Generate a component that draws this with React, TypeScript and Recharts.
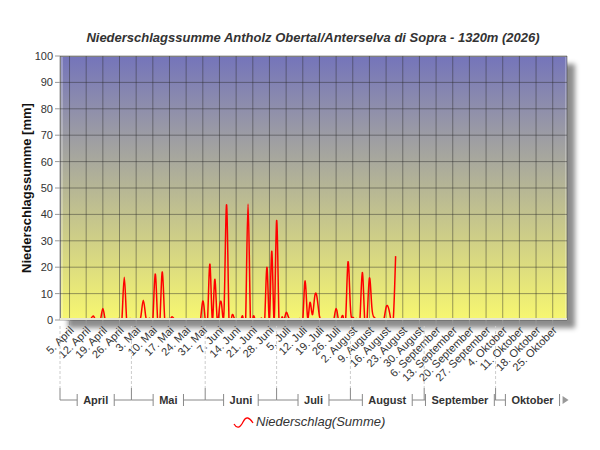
import { LineChart, Line, XAxis, YAxis, CartesianGrid } from 'recharts';

// daily precipitation sums [mm], one value per day starting 1. April
const RAIN_MM = [
  0, 0, 0, 0, 0, 0, 0, 0, 0, 0,
  0, 0, 0.5, 0.5, 1.5, 0, 0, 0, 4.4, 0,
  0, 0, 0, 0, 0, 0, 0, 16.2, 0, 0,
  0, 0, 0, 0, 1.5, 7.5, 1.5, 0, 0, 0,
  17.4, 0, 0, 18.2, 0, 0, 0, 1.2, 0.3, 0,
  0, 0, 0, 0, 0, 0, 0, 0, 0, 0,
  7.2, 0, 0, 21.1, 0, 15.3, 0.5, 4.8, 5, 6,
  43.6, 0, 0, 1.1, 0, 0, 0, 0, 0, 43.9,
  0, 0, 0, 0, 0, 0, 0, 19.8, 0, 26,
  0, 37.6, 0, 0, 0, 2.8, 1, 0, 0, 0,
  0, 0, 0, 14.8, 1, 6.6, 2, 8.8, 8.5, 1.5,
  0, 0, 0, 0, 0, 0, 4.4, 0, 0, 1.1,
  0, 22, 5, 1, 0, 0, 0, 18, 0, 0,
  15.9, 5, 1, 0, 0, 0, 0, 4.8, 4.6, 0,
  0, 24.2,
];

// day index (0 = 1. April) of every Sunday, and its label
const SUNDAY_DAYS = [4, 11, 18, 25, 32, 39, 46, 53, 60, 67, 74, 81, 88, 95, 102, 109, 116, 123, 130, 137, 144, 151, 158, 165, 172, 179, 186, 193, 200, 207];
const SUNDAY_LABELS = [
  '5. April', '12. April', '19. April', '26. April',
  '3. Mai', '10. Mai', '17. Mai', '24. Mai', '31. Mai',
  '7. Juni', '14. Juni', '21. Juni', '28. Juni',
  '5. Juli', '12. Juli', '19. Juli', '26. Juli',
  '2. August', '9. August', '16. August', '23. August', '30. August',
  '6. September', '13. September', '20. September', '27. September',
  '4. Oktober', '11. Oktober', '18. Oktober', '25. Oktober',
];

const MONTH_NAMES = ['April', 'Mai', 'Juni', 'Juli', 'August', 'September', 'Oktober'];
const MONTH_STARTS = [0, 30, 61, 91, 122, 153, 183];
const MONTH_DAYS = [30, 31, 30, 31, 31, 30, 31];

const Y_TICKS = [0, 10, 20, 30, 40, 50, 60, 70, 80, 90, 100];

const DAY_MAX = 213;
const FONT = "'Liberation Sans', Arial, sans-serif";
const PLOT_W = 507;

const rows = RAIN_MM.map((v, i) => ({ d: i, v }));

let ctx: CanvasRenderingContext2D | null = null;
function textWidth(s: string) {
  if (!ctx) ctx = document.createElement('canvas').getContext('2d');
  if (!ctx) return s.length * 6;
  ctx.font = `bold 11px ${FONT}`;
  return ctx.measureText(s).width;
}

function DayTick(props: any) {
  const { x, y, payload } = props;
  const label = SUNDAY_LABELS[SUNDAY_DAYS.indexOf(payload.value)];
  const ax = x + 5;
  const ay = y + 6;
  return (
    <text x={ax} y={ay} transform={`rotate(-45 ${ax} ${ay})`} textAnchor="end" fontSize={11} fill="#333">
      {label}
    </text>
  );
}

function MonthTick(props: any) {
  const { x, y, payload } = props;
  const i = MONTH_STARTS.indexOf(payload.value);
  const w = (MONTH_DAYS[i] * PLOT_W) / DAY_MAX;
  const cx = x + w / 2;
  const tw = textWidth(MONTH_NAMES[i]);
  const l = cx - tw / 2 - 6;
  const r = cx + tw / 2 + 6;
  const ly = y + 12;
  const last = i === MONTH_NAMES.length - 1;
  return (
    <g>
      <line x1={x} y1={y - 62} x2={x} y2={y} stroke="#cccccc" strokeDasharray="3 2" />
      <path
        d={`M${x},${y} L${x},${ly} L${l},${ly} M${l},${ly - 6} L${l},${ly + 6} M${r},${ly - 6} L${r},${ly + 6}` +
          (last ? '' : ` M${r},${ly} L${x + w},${ly}`)}
        stroke="#888"
        fill="none"
      />
      {last && <path d={`M${r + 3},${ly - 4} L${r + 9},${ly} L${r + 3},${ly + 4} Z`} fill="#999" />}
      <text x={cx} y={ly + 4} textAnchor="middle" fontWeight="bold" fontSize={11} fill="#333">
        {MONTH_NAMES[i]}
      </text>
    </g>
  );
}

export default function App() {
  return (
    <div style={{ position: 'absolute', left: 0, top: 0, width: 600, height: 450, background: '#fff', fontFamily: FONT, color: '#333' }}>
      <div
        style={{
          position: 'absolute', left: 60, top: 56, width: PLOT_W, height: 264, boxSizing: 'border-box',
          background: 'linear-gradient(#7575ba, #f7f770)',
          borderTop: '1px solid #999', borderLeft: '1px solid #999',
          boxShadow: '8px 8px 5px rgba(0,0,0,0.45), inset 2px 0 0 rgba(255,255,255,0.25), inset -2px 0 0 rgba(255,255,255,0.25)',
        }}
      />
      <div style={{ position: 'absolute', left: 0, top: 0 }}>
        <LineChart width={600} height={450} data={rows} margin={{ top: 56, right: 33, bottom: 40, left: 0 }}>
          <CartesianGrid stroke="#2a2a2a" strokeOpacity={0.45} />
          <XAxis
            dataKey="d" type="number" domain={[0, DAY_MAX]} ticks={SUNDAY_DAYS} interval={0}
            height={68} axisLine={false} tickSize={5} tickMargin={0} tickLine={{ stroke: '#999' }}
            tick={(p: any) => <DayTick {...p} />}
          />
          <XAxis
            xAxisId="m" dataKey="d" type="number" domain={[0, DAY_MAX]} ticks={MONTH_STARTS} interval={0}
            height={22} axisLine={false} tickLine={false} tickSize={0} tickMargin={0}
            tick={(p: any) => <MonthTick {...p} />}
          />
          <YAxis
            width={60} domain={[0, 100]} ticks={Y_TICKS} interval={0} allowDataOverflow
            axisLine={false} tickSize={5} tickMargin={2} tickLine={{ stroke: '#999' }}
            tick={{ fontSize: 11, fill: '#333' }}
          />
          <Line type="natural" dataKey="v" stroke="#ff0000" strokeWidth={1.5} dot={false} activeDot={false} isAnimationActive={false} />
        </LineChart>
      </div>
      <div style={{ position: 'absolute', left: 60, top: 318, width: PLOT_W, height: 2, background: '#e6e6d2' }} />
      <div style={{ position: 'absolute', left: 313, top: 30, transform: 'translateX(-50%)', whiteSpace: 'nowrap', fontSize: 13, fontWeight: 'bold', fontStyle: 'italic' }}>
        Niederschlagssumme Antholz Obertal/Anterselva di Sopra - 1320m (2026)
      </div>
      <div style={{ position: 'absolute', left: 26, top: 188, transform: 'translate(-50%, -50%) rotate(-90deg)', whiteSpace: 'nowrap', fontSize: 13, fontWeight: 'bold', color: '#111' }}>
        Niederschlagssumme [mm]
      </div>
      <div style={{ position: 'absolute', left: 233, top: 414, display: 'flex', alignItems: 'center', whiteSpace: 'nowrap' }}>
        <svg width={21} height={14}>
          <path d="M1,9 C4,14 7,13 10,7 S16,2 20,8" stroke="#ff0000" strokeWidth={1.3} fill="none" />
        </svg>
        <span style={{ fontSize: 13, fontStyle: 'italic', marginLeft: 2 }}>Niederschlag(Summe)</span>
      </div>
    </div>
  );
}
